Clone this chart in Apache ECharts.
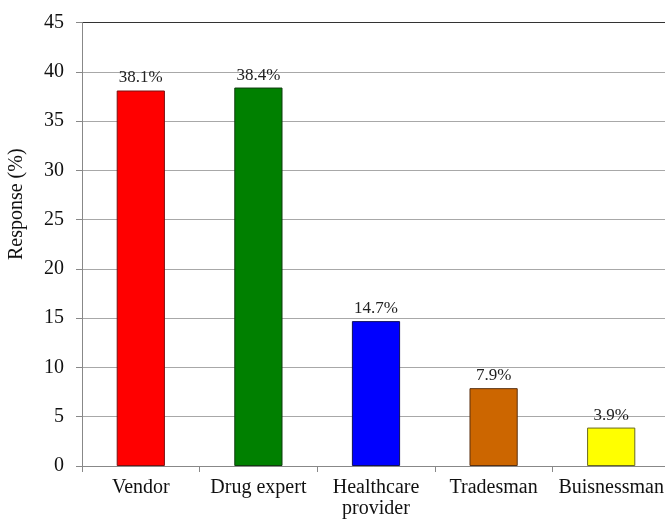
<!DOCTYPE html>
<html>
<head>
<meta charset="utf-8">
<script src="https://cdn.jsdelivr.net/npm/echarts@6/dist/echarts.min.js"></script>
<style>
  html, body { margin: 0; padding: 0; background: #fff; }
  #chart { width: 665px; height: 520px; }
</style>
</head>
<body>
<div id="chart"></div>
<script>
// Who respondents turn to for information
const categories = ['Vendor', 'Drug expert', 'Healthcare\nprovider', 'Tradesman', 'Buisnessman'];
const responses = [38.1, 38.4, 14.7, 7.9, 3.9];
const barColors = ['#ff0000', '#008000', '#0000ff', '#cc6600', '#ffff00'];
const barBorders = ['#7a1010', '#0f3d0f', '#10105a', '#5a3010', '#6a6a20'];
const yTicks = { min: 0, max: 45, step: 5 };

const chart = echarts.init(document.getElementById('chart'));
const serif = '"Liberation Serif", "Times New Roman", serif';

// one colour per grid line, the top line drawn dark as the frame edge
const gridColors = [];
for (let v = yTicks.min; v <= yTicks.max; v += yTicks.step) {
  gridColors.push(v === yTicks.max ? '#333' : '#a8a8a8');
}

chart.setOption({
  animation: false,
  backgroundColor: '#fff',
  grid: { left: 82, right: -5, top: 22.5, bottom: 54, outerBoundsMode: 'none' },
  xAxis: {
    type: 'category',
    data: categories,
    axisLine: { lineStyle: { color: '#888', width: 1 } },
    axisTick: { show: true, interval: 0, length: 6, lineStyle: { color: '#888' } },
    axisLabel: {
      interval: 0,
      color: '#111', fontFamily: serif, fontSize: 20, margin: 11, lineHeight: 21
    }
  },
  yAxis: {
    type: 'value',
    min: yTicks.min, max: yTicks.max, interval: yTicks.step,
    name: 'Response (%)',
    nameLocation: 'middle',
    nameGap: 55,
    nameTextStyle: { color: '#111', fontFamily: serif, fontSize: 20, padding: [0, 0, 0, 80] },
    axisLine: { show: true, lineStyle: { color: '#888', width: 1 } },
    axisTick: { show: true, length: 6, lineStyle: { color: '#888' } },
    axisLabel: { color: '#111', fontFamily: serif, fontSize: 20, margin: 18 },
    splitLine: { show: true, lineStyle: { color: gridColors, width: 1 } }
  },
  series: [{
    type: 'bar',
    barWidth: '41%',
    data: responses.map((v, i) => ({
      value: v,
      itemStyle: { color: barColors[i], borderColor: barBorders[i], borderWidth: 1 }
    })),
    label: {
      show: true,
      position: 'top',
      distance: 4,
      color: '#222',
      fontFamily: serif,
      fontSize: 17,
      formatter: p => p.value.toFixed(1) + '%'
    }
  }]
});
</script>
</body>
</html>
